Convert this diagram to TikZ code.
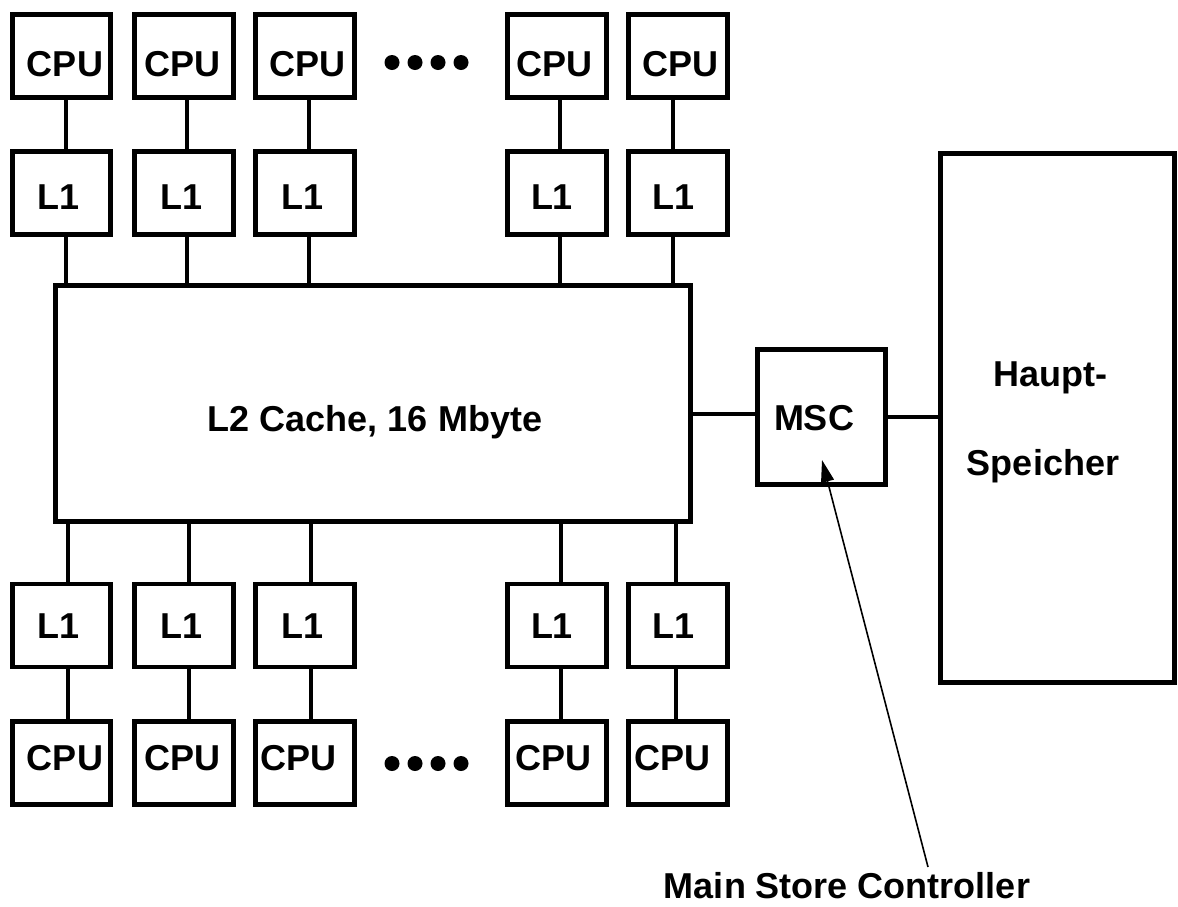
\documentclass[tikz,border=0pt]{standalone}
\usepackage{fontspec}
\setmainfont{Liberation Sans}
\usetikzlibrary{arrows.meta}
\begin{document}
\begin{tikzpicture}[x=0.5pt,y=-0.5pt]
\tikzset{
  unit/.style={draw, line width=2.4pt, inner sep=0pt, minimum width=49.25pt, minimum height=41.5pt},
  bigbox/.style={draw, line width=2.4pt, inner sep=0pt},
  txt/.style={font=\bfseries\fontsize{18}{21.6}\selectfont, inner sep=0pt, text height=12.9pt, text depth=0pt},
  wire/.style={line width=2.4pt},
  pointer/.style={line width=0.8pt, -{Triangle[length=11pt,width=6.5pt]}},
}
\useasboundingbox (0,0) rectangle (1178,906);

% upper processors
\node[unit, label={[txt,shift={(3.5,7.5)}]center:CPU}]  (cpuT1) at (61.5,56) {};
\node[unit, label={[txt,shift={(-1.5,7.5)}]center:CPU}] (cpuT2) at (184,56) {};
\node[unit, label={[txt,shift={(2.5,7.5)}]center:CPU}]  (cpuT3) at (305,56) {};
\node[unit, label={[txt,shift={(-2.5,7.5)}]center:CPU}] (cpuT4) at (557,56) {};
\node[unit, label={[txt,shift={(2.5,7.5)}]center:CPU}]  (cpuT5) at (678,56) {};

% upper L1 caches
\node[unit, label={[txt,shift={(-2.5,4)}]center:L1}] (l1T1) at (61.5,193) {};
\node[unit, label={[txt,shift={(-2.5,4)}]center:L1}] (l1T2) at (184,193) {};
\node[unit, label={[txt,shift={(-2.5,4)}]center:L1}] (l1T3) at (305,193) {};
\node[unit, label={[txt,shift={(-5,4)}]center:L1}]   (l1T4) at (557,193) {};
\node[unit, label={[txt,shift={(-4.5,4)}]center:L1}] (l1T5) at (678,193) {};

% shared L2 cache
\node[bigbox, minimum width=317.6pt, minimum height=118.1pt,
      label={[txt,shift={(2,15)}]center:{L2 Cache, 16 Mbyte}}] (l2) at (373,403.5) {};

% lower L1 caches
\node[unit, label={[txt,shift={(-2.5,0)}]center:L1}] (l1B1) at (61.5,625.5) {};
\node[unit, label={[txt,shift={(-2.5,0)}]center:L1}] (l1B2) at (184,625.5) {};
\node[unit, label={[txt,shift={(-2,0)}]center:L1}]   (l1B3) at (305,625.5) {};
\node[unit, label={[txt,shift={(-5,0)}]center:L1}]   (l1B4) at (557,625.5) {};
\node[unit, label={[txt,shift={(-4.5,0)}]center:L1}] (l1B5) at (678,625.5) {};

% lower processors
\node[unit, label={[txt,shift={(3.5,-5.5)}]center:CPU}]  (cpuB1) at (61.5,763) {};
\node[unit, label={[txt,shift={(-1.5,-5.5)}]center:CPU}] (cpuB2) at (184,763) {};
\node[unit, label={[txt,shift={(-6.5,-5.5)}]center:CPU}] (cpuB3) at (305,763) {};
\node[unit, label={[txt,shift={(-3.5,-5.5)}]center:CPU}] (cpuB4) at (557,763) {};
\node[unit, label={[txt,shift={(-5.5,-5.5)}]center:CPU}] (cpuB5) at (678,763) {};

% memory controller and main memory
\node[bigbox, minimum width=64.1pt, minimum height=67.6pt,
      label={[txt,shift={(-7.5,0.5)}]center:MSC}] (msc) at (821.5,417) {};
\node[bigbox, minimum width=117.1pt, minimum height=264.6pt,
      label={[txt,shift={(-7.5,-44.5)}]center:Haupt-},
      label={[txt,shift={(-14.5,44.5)}]center:Speicher}] (haupt) at (1057.5,418) {};

% vertical bus taps
\coordinate (xT1) at (66,0);  \coordinate (xT2) at (187,0); \coordinate (xT3) at (309,0);
\coordinate (xT4) at (560,0); \coordinate (xT5) at (673,0);
\coordinate (xB1) at (68,0);  \coordinate (xB2) at (189,0); \coordinate (xB3) at (311,0);
\coordinate (xB4) at (561,0); \coordinate (xB5) at (676,0);
\foreach \i in {1,...,5}{
  \draw[wire] (cpuT\i.south -| xT\i) -- (l1T\i.north -| xT\i);
  \draw[wire] (l1T\i.south -| xT\i) -- (l2.north -| xT\i);
  \draw[wire] (l2.south -| xB\i) -- (l1B\i.north -| xB\i);
  \draw[wire] (l1B\i.south -| xB\i) -- (cpuB\i.north -| xB\i);
}

% links to the memory side
\coordinate (yA) at (0,414);
\coordinate (yB) at (0,417);
\draw[wire] (l2.east |- yA) -- (msc.west |- yA);
\draw[wire] (msc.east |- yB) -- (haupt.west |- yB);

% ellipsis dots between the processor groups
\foreach \x in {392,415,438,461}{
  \fill (\x,62.5) circle[radius=3.75pt];
  \fill (\x,763.5) circle[radius=3.75pt];
}

% caption with pointer
\node[txt] (mscname) at (847,886) {Main Store Controller};
\coordinate (tail) at (928,867);
\coordinate (tip) at (822,460);
\draw[pointer] (tail) -- (tip);
\end{tikzpicture}
\end{document}
